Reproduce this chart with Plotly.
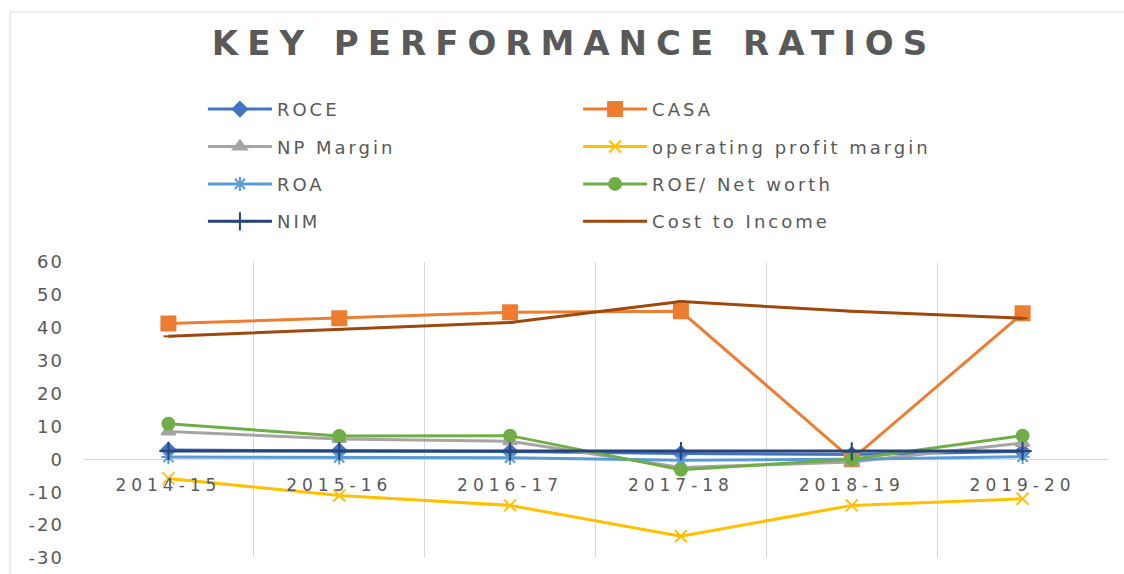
import plotly.graph_objects as go

years = ["2014-15", "2015-16", "2016-17", "2017-18", "2018-19", "2019-20"]
roce = [2.8, 2.6, 2.4, 1.8, 1.5, 2.4]
casa = [41.3, 42.9, 44.7, 45.0, 0.0, 44.4]
np_margin = [8.5, 6.2, 5.5, -2.5, -0.8, 5.0]
op_margin = [-5.8, -11.0, -14.0, -23.4, -14.0, -12.0]
roa = [0.7, 0.6, 0.5, -0.3, 0.0, 0.8]
roe = [10.8, 7.1, 7.2, -3.2, 0.0, 7.2]
nim = [2.5, 2.5, 2.4, 2.5, 2.4, 2.5]
cost_income = [37.4, 39.5, 41.6, 48.0, 45.0, 42.9]
y_ticks = [-30, -20, -10, 0, 10, 20, 30, 40, 50, 60]

series = [
    ("ROCE", roce, "#4472C4", "diamond", 11, "legend"),
    ("CASA", casa, "#ED7D31", "square", 14, "legend2"),
    ("NP Margin", np_margin, "#A5A5A5", "triangle-up", 12, "legend"),
    ("operating profit margin", op_margin, "#FFC000", "x-thin-open", 12, "legend2"),
    ("ROA", roa, "#5B9BD5", "asterisk-open", 12, "legend"),
    ("ROE/ Net worth", roe, "#70AD47", "circle", 12, "legend2"),
    ("NIM", nim, "#264478", "cross-thin-open", 13, "legend"),
    ("Cost to Income", cost_income, "#9E480E", "line-ew-open", 7, "legend2"),
]


def spaced(s, px):
    return f'<span style="letter-spacing:{px}px">{s}</span>'


fig = go.Figure()
for name, vals, color, sym, size, leg in series:
    fig.add_trace(go.Scatter(
        x=years, y=vals, name=spaced(name, 3), mode="lines+markers",
        line=dict(color=color, width=3),
        marker=dict(symbol=sym, size=size, color=color,
                    line=dict(color=color, width=2)),
        legend=leg, legendgroup=name,
    ))

txt = "#595959"
legend_common = dict(
    orientation="v", traceorder="grouped", tracegroupgap=11,
    font=dict(family="DejaVu Sans", size=18, color=txt),
    bgcolor="rgba(0,0,0,0)", itemwidth=64,
    xanchor="left", yanchor="top",
)

fig.update_layout(
    width=1124, height=574,
    margin=dict(l=83, r=16, t=262, b=16, autoexpand=False),
    paper_bgcolor="white", plot_bgcolor="white",
    title=dict(
        text=spaced("<b>KEY PERFORMANCE RATIOS</b>", 9),
        x=0.5 + 12 / 1124, xanchor="center", xref="container",
        y=1 - 43 / 574, yanchor="middle", yref="container",
        font=dict(family="DejaVu Sans", size=34, color=txt),
    ),
    legend=dict(x=0.117, y=1.578, **legend_common),
    legend2=dict(x=0.483, y=1.578, **legend_common),
    xaxis=dict(
        type="category", tickson="boundaries", showgrid=True,
        gridcolor="#d9d9d9", gridwidth=1, range=[-0.5, 5.5],
        tickvals=years, ticktext=[spaced(y, 5) for y in years], ticks="",
        anchor="free", position=30 / 90, showline=False, zeroline=False,
        tickfont=dict(family="DejaVu Sans", size=17, color=txt),
        ticklabelstandoff=14,
    ),
    yaxis=dict(
        range=[-30, 60], showgrid=False,
        tickvals=y_ticks, ticktext=[spaced(str(v), 2) for v in y_ticks],
        zeroline=True, zerolinecolor="#d9d9d9", zerolinewidth=1,
        showline=False, ticks="",
        tickfont=dict(family="DejaVu Sans", size=18, color=txt),
        ticklabelstandoff=18,
    ),
    showlegend=True,
    shapes=[dict(type="rect", xref="paper", yref="paper",
                 x0=-0.0712, x1=1.1, y0=-0.2, y1=(558 - 12) / 296,
                 line=dict(color="#d9d9d9", width=1), layer="below")],
)

fig.write_html("out.html")
